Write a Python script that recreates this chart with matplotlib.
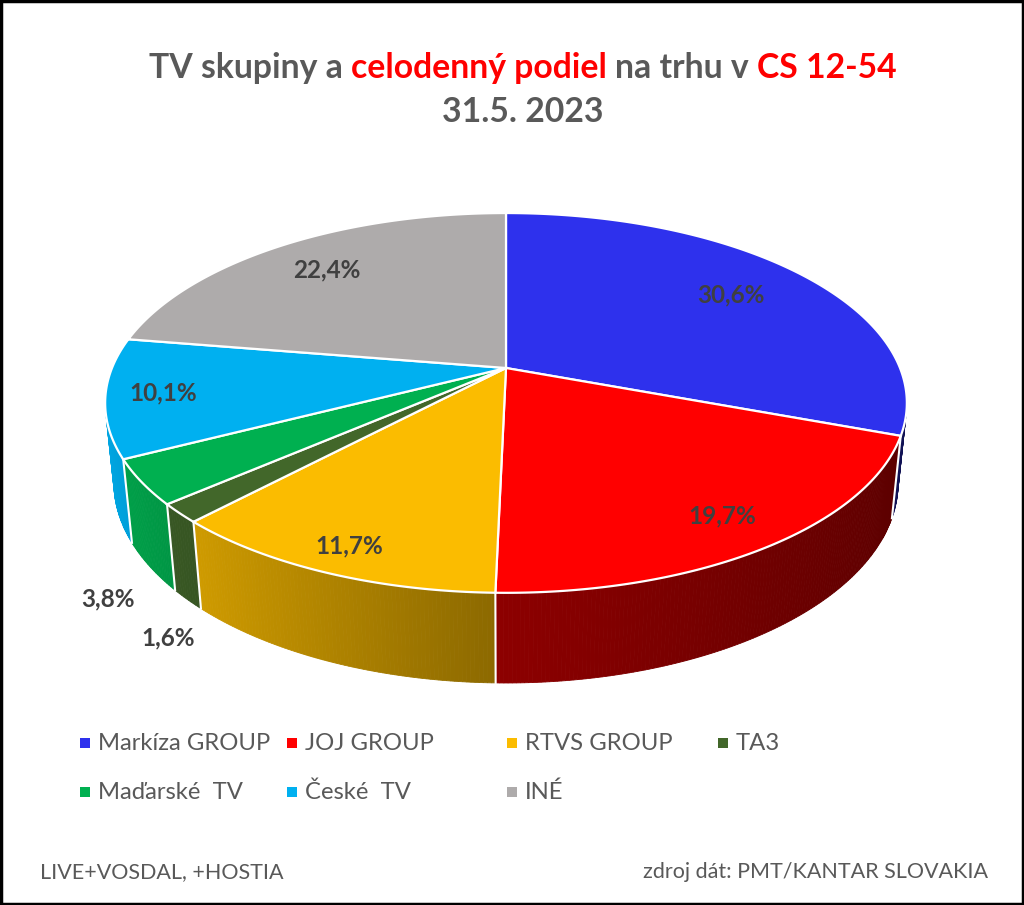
import numpy as np
import matplotlib
matplotlib.use("Agg")
import matplotlib.pyplot as plt
from matplotlib.patches import Polygon, Rectangle
from matplotlib.colors import to_rgb

plt.rcParams['font.family'] = ['Lato', 'DejaVu Sans']

# data
names = ['Markíza GROUP', 'JOJ GROUP', 'RTVS GROUP', 'TA3', 'Maďarské  TV', 'České  TV', 'INÉ']
shares = [30.6, 19.7, 11.7, 1.6, 3.8, 10.1, 22.4]
colors = ['#2e31ed', '#ff0000', '#fbbc00', '#42672a', '#00b050', '#00b0f0', '#aeabab']
# label placement (radius factor, depth below top face as fraction of thickness)
label_r = [0.75, 0.85, 0.89, 1.06, 1.11, 0.86, 0.78]
label_zf = [0, 0, 0, 1.33, 1.2, 0, 0]

title_parts = [("TV skupiny a", '#595959'), ("celodenný podiel", '#ff0000'),
               ("na trhu v", '#595959'), ("CS 12-54", '#ff0000')]
title2 = "31.5. 2023"
foot_left = "LIVE+VOSDAL, +HOSTIA"
foot_right = "zdroj dát: PMT/KANTAR SLOVAKIA"

# simple perspective camera for the 3d pie
phi = np.radians(27.3)
cam_d = 4.83
focal = 1932
xscale = 0.985
cx, cy = 506, 368
thick = 0.226


def proj(x, y, z):
    depth = y * np.cos(phi) - z * np.sin(phi) + cam_d
    up = y * np.sin(phi) + z * np.cos(phi)
    return cx + xscale * focal * x / depth, cy - focal * up / depth


def shade(col, nx):
    r = np.array(to_rgb(col))
    if nx > 0:
        f = 0.55 - 0.2 * nx
    else:
        f = 0.55 - 0.4 * nx
    return tuple(np.clip(r * f, 0, 1))


fig = plt.figure(figsize=(10.24, 9.05), dpi=100)
ax = fig.add_axes([0, 0, 1, 1])
ax.set_xlim(0, 1024)
ax.set_ylim(905, 0)
ax.axis('off')

vals = np.array(shares)
frac = vals / vals.sum()
edges = np.concatenate([[0], np.cumsum(frac)]) * 360.0

# outer walls (only the part facing the camera)
for i in range(len(vals)):
    a0, a1 = edges[i], edges[i + 1]
    n = max(int((a1 - a0) * 2), 2)
    th = np.radians(np.linspace(a0, a1, n + 1))
    for k in range(n):
        tm = 0.5 * (th[k] + th[k + 1])
        if -1 - cam_d * np.cos(phi) * np.cos(tm) <= 0:
            continue
        xs = [np.sin(th[k]), np.sin(th[k + 1]), np.sin(th[k + 1]), np.sin(th[k])]
        ys = [np.cos(th[k]), np.cos(th[k + 1]), np.cos(th[k + 1]), np.cos(th[k])]
        zs = [0, 0, -thick, -thick]
        pts = [proj(xs[j], ys[j], zs[j]) for j in range(4)]
        c = shade(colors[i], np.sin(tm))
        ax.add_patch(Polygon(pts, closed=True, facecolor=c, edgecolor=c, lw=0.6))

# white seams on the wall
for a in edges[:-1]:
    t = np.radians(a)
    if -1 - cam_d * np.cos(phi) * np.cos(t) > 0:
        p0 = proj(np.sin(t), np.cos(t), 0)
        p1 = proj(np.sin(t), np.cos(t), -thick)
        ax.plot([p0[0], p1[0]], [p0[1], p1[1]], color='white', lw=1.5)

# top faces
for i in range(len(vals)):
    th = np.radians(np.linspace(edges[i], edges[i + 1], 200))
    pts = [proj(0, 0, 0)] + [proj(np.sin(t), np.cos(t), 0) for t in th]
    ax.add_patch(Polygon(pts, closed=True, facecolor=colors[i], edgecolor='white', lw=1.6))

# data labels
for i in range(len(vals)):
    t = np.radians(0.5 * (edges[i] + edges[i + 1]))
    r = label_r[i]
    px, py = proj(r * np.sin(t), r * np.cos(t), -thick * label_zf[i])
    txt = f"{shares[i]:.1f}".replace('.', ',') + '%'
    ax.text(px, py, txt, ha='center', va='center', fontsize=17.5,
            fontweight='bold', color='#404040')

# title with coloured parts
fig.canvas.draw()
rend = fig.canvas.get_renderer()
title_fs = 24.3


def text_w(s):
    t = ax.text(0, 0, s, fontsize=title_fs, fontweight='bold')
    w = t.get_window_extent(rend).width
    t.remove()
    return w


space_w = text_w("x x") - text_w("xx")
widths = [text_w(p) for p, _ in title_parts]
total = sum(widths) + space_w * (len(widths) - 1)
x = 523 - total / 2
for (p, c), w in zip(title_parts, widths):
    ax.text(x, 68, p, fontsize=title_fs, fontweight='bold', color=c,
            ha='left', va='center')
    x += w + space_w
ax.text(523, 112, title2, fontsize=title_fs, fontweight='bold', color='#595959',
        ha='center', va='center')

# legend laid out like the original
leg_x = [85, 292, 512, 723]
leg_y = [743, 792]
for i, nm in enumerate(names):
    row, col = divmod(i, 4)
    ax.scatter([leg_x[col]], [leg_y[row]], marker='s', s=50, color=colors[i], lw=0)
    ax.text(leg_x[col] + 13, leg_y[row], nm, fontsize=17.2, color='#595959',
            ha='left', va='center')

ax.text(40, 872, foot_left, fontsize=15.5, color='#595959', ha='left', va='center')
ax.text(988, 872, foot_right, fontsize=15.5, color='#595959', ha='right', va='center')

ax.add_patch(Rectangle((1, 1), 1022, 903, fill=False, edgecolor='black', lw=2.5))

fig.savefig('out.png', dpi=100)
